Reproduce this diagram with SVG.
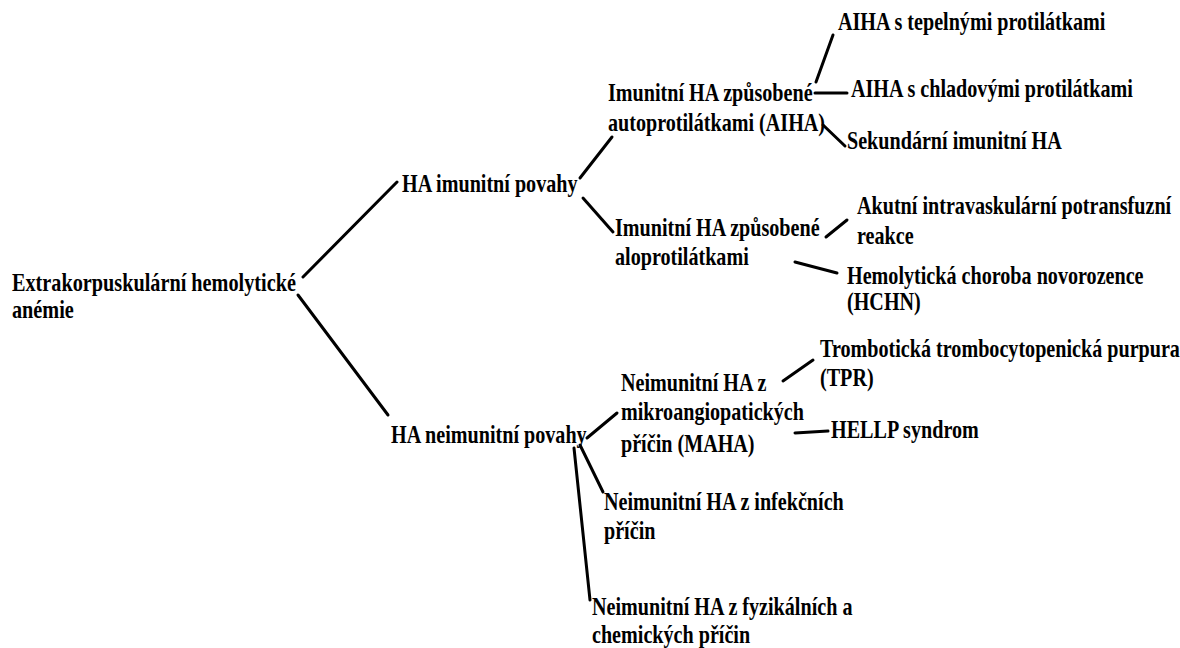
<svg xmlns="http://www.w3.org/2000/svg" width="1180" height="648" viewBox="0 0 1180 648">
<style>
  text { font-family: "Liberation Serif", "Times New Roman", serif; font-weight: bold; font-size: 25px; fill: #000; }
  .c line { stroke: #000; stroke-width: 3; stroke-linecap: round; }
</style>
<rect width="1180" height="648" fill="#fff"/>
<g class="c" id="connectors">
  <line x1="303" y1="277" x2="397" y2="182"/>
  <line x1="298" y1="295" x2="388" y2="415"/>
  <line x1="580" y1="178" x2="612" y2="137"/>
  <line x1="583" y1="198" x2="613" y2="232"/>
  <line x1="816" y1="82" x2="833" y2="35"/>
  <line x1="815" y1="93" x2="847" y2="93"/>
  <line x1="823" y1="125" x2="845" y2="146"/>
  <line x1="826" y1="237" x2="847" y2="220"/>
  <line x1="795" y1="262" x2="837" y2="273"/>
  <line x1="587" y1="438" x2="617" y2="413"/>
  <line x1="580" y1="445" x2="603" y2="492"/>
  <line x1="574" y1="448" x2="590" y2="600"/>
  <line x1="783" y1="381" x2="813" y2="360"/>
  <line x1="795" y1="433" x2="828" y2="431"/>
</g>
<g id="root" transform="translate(12,0) scale(0.81,1)">
  <text x="0" y="291">Extrakorpuskulární hemolytické</text>
  <text x="0" y="318">anémie</text>
</g>
<g id="imunitni" transform="translate(402,0) scale(0.805,1)">
  <text x="0" y="192">HA imunitní povahy</text>
</g>
<g id="neimunitni" transform="translate(391,0) scale(0.805,1)">
  <text x="0" y="443">HA neimunitní povahy</text>
</g>
<g id="aiha" transform="translate(608,0) scale(0.805,1)">
  <text x="0" y="101">Imunitní HA způsobené</text>
  <text x="0" y="131">autoprotilátkami (AIHA)</text>
</g>
<g id="alo" transform="translate(615,0) scale(0.805,1)">
  <text x="0" y="236">Imunitní HA způsobené</text>
  <text x="0" y="265">aloprotilátkami</text>
</g>
<g id="tepelne" transform="translate(838,0) scale(0.805,1)">
  <text x="0" y="30">AIHA s tepelnými protilátkami</text>
</g>
<g id="chladove" transform="translate(851,0) scale(0.805,1)">
  <text x="0" y="97">AIHA s chladovými protilátkami</text>
</g>
<g id="sekundarni" transform="translate(847,0) scale(0.805,1)">
  <text x="0" y="149">Sekundární imunitní HA</text>
</g>
<g id="akutni" transform="translate(857,0) scale(0.805,1)">
  <text x="0" y="214">Akutní intravaskulární potransfuzní</text>
  <text x="0" y="244">reakce</text>
</g>
<g id="hchn" transform="translate(847,0) scale(0.805,1)">
  <text x="0" y="284">Hemolytická choroba novorozence</text>
  <text x="0" y="310">(HCHN)</text>
</g>
<g id="maha" transform="translate(621,0) scale(0.805,1)">
  <text x="0" y="391">Neimunitní HA z</text>
  <text x="0" y="420">mikroangiopatických</text>
  <text x="0" y="452">příčin (MAHA)</text>
</g>
<g id="tpr" transform="translate(820,0) scale(0.805,1)">
  <text x="0" y="357">Trombotická trombocytopenická purpura</text>
  <text x="0" y="386">(TPR)</text>
</g>
<g id="hellp" transform="translate(831,0) scale(0.805,1)">
  <text x="0" y="438">HELLP syndrom</text>
</g>
<g id="infekcni" transform="translate(604,0) scale(0.805,1)">
  <text x="0" y="510">Neimunitní HA z infekčních</text>
  <text x="0" y="539">příčin</text>
</g>
<g id="fyzikalni" transform="translate(592,0) scale(0.805,1)">
  <text x="0" y="615">Neimunitní HA z fyzikálních a</text>
  <text x="0" y="643">chemických příčin</text>
</g>
</svg>
